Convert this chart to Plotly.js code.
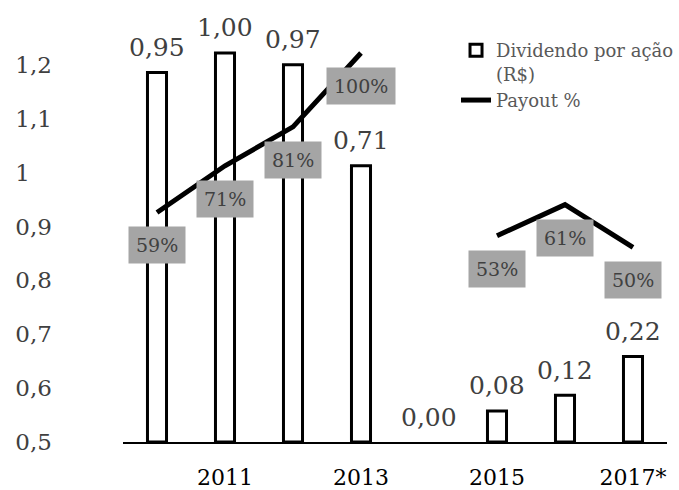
<!DOCTYPE html>
<html>
<head>
<meta charset="utf-8">
<script src="https://cdn.plot.ly/plotly-3.0.1.min.js"></script>
<style>html,body{margin:0;padding:0;background:#fff;}#chart{width:679px;height:490px;}</style>
</head>
<body>
<div id="chart"></div>
<script>
var years = ['2010', '2011', '2012', '2013', '2014', '2015', '2016', '2017*'];
var dividends = [0.95, 1.00, 0.97, 0.71, 0.00, 0.08, 0.12, 0.22];
var payout = [0.59, 0.71, 0.81, 1.00, null, 0.53, 0.61, 0.50];
var shownYears = ['2011', '2013', '2015', '2017*'];
var barName = 'Dividendo por ação<br>(R$)';
var lineName = 'Payout %';

var FONT = 'DejaVu Serif, Liberation Serif, serif';

function fmt2(v) { return v.toFixed(2).replace('.', ','); }

var barTrace = {
  type: 'bar', x: years, y: dividends, xaxis: 'x', yaxis: 'y2', name: barName,
  width: 0.28,
  marker: { color: '#ffffff', line: { color: '#000000', width: dividends.map(function (d) { return d > 0 ? 3 : 0; }) } },
  hoverinfo: 'skip'
};
var lineTrace = {
  type: 'scatter', mode: 'lines', x: years, y: payout, xaxis: 'x', yaxis: 'y2', name: lineName,
  line: { color: '#000000', width: 5 }, connectgaps: false, hoverinfo: 'skip'
};
// empty trace so that the left scale axis (y on x2) gets its own subplot
var scaleTrace = {
  type: 'scatter', mode: 'markers', x: [], y: [], xaxis: 'x2', yaxis: 'y',
  showlegend: false, hoverinfo: 'skip'
};

var annotations = [];
for (var i = 0; i < years.length; i++) {
  annotations.push({
    x: i, y: dividends[i], xref: 'x', yref: 'y2', text: fmt2(dividends[i]),
    showarrow: false, yanchor: 'middle', xanchor: 'center', yshift: 25,
    font: { family: FONT, size: 25, color: '#404040' }
  });
}
for (var j = 0; j < years.length; j++) {
  if (payout[j] === null) continue;
  annotations.push({
    x: j, y: payout[j], xref: 'x', yref: 'y2', text: Math.round(payout[j] * 100) + '%',
    showarrow: false, yanchor: 'middle', xanchor: 'center', yshift: -33,
    bgcolor: '#a5a5a5', borderpad: 7,
    font: { family: FONT, size: 19, color: '#404040' }
  });
}

var layout = {
  width: 679, height: 490,
  margin: { l: 10, r: 0, t: 30, b: 48, autoexpand: false },
  paper_bgcolor: '#ffffff', plot_bgcolor: 'rgba(0,0,0,0)',
  separators: ',.',
  showlegend: true,
  legend: {
    x: 0.6667, y: 0.995, xanchor: 'left', yanchor: 'top',
    font: { family: FONT, size: 18, color: '#595959' },
    valign: 'top', bgcolor: 'rgba(0,0,0,0)', tracegroupgap: 8
  },
  xaxis: {
    type: 'category', domain: [0.1689, 0.98206], range: [-0.5, 7.5], anchor: 'y2',
    showline: true, linecolor: '#000000', linewidth: 1.5,
    ticks: '', tickvals: shownYears, ticktext: shownYears, ticklabelstandoff: 15,
    tickfont: { family: FONT, size: 22, color: '#000000' },
    showgrid: false, zeroline: false
  },
  xaxis2: {
    domain: [0, 0.0065], range: [0, 1], anchor: 'y', visible: false,
    showgrid: false, zeroline: false
  },
  yaxis: {
    range: [0.4999, 1.2648], tick0: 0.5, dtick: 0.1,
    anchor: 'x2', side: 'right',
    ticks: '', showline: false, showgrid: false, zeroline: false,
    tickfont: { family: FONT, size: 23, color: '#404040' }
  },
  yaxis2: {
    anchor: 'x', range: [0, 1.059],
    visible: false, showgrid: false, zeroline: false
  },
  annotations: annotations
};

Plotly.newPlot('chart', [barTrace, lineTrace, scaleTrace], layout, { staticPlot: true, displayModeBar: false });
</script>
</body>
</html>
